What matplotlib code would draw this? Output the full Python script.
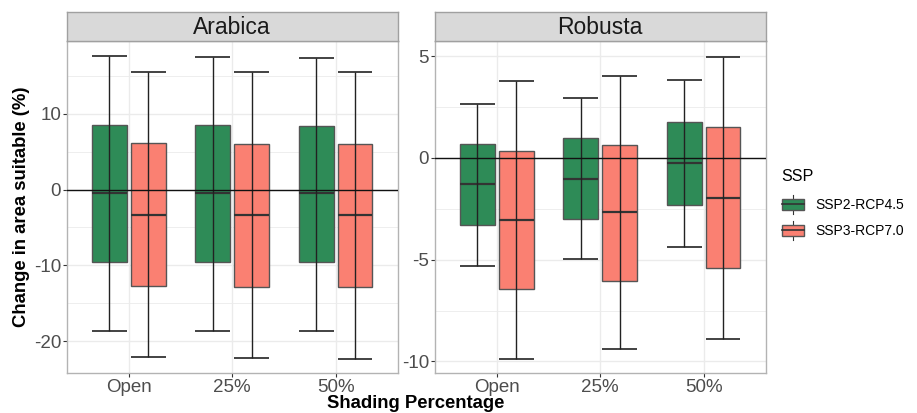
import matplotlib
matplotlib.use("Agg")
import matplotlib.pyplot as plt
from matplotlib.patches import Rectangle, Patch
from matplotlib.lines import Line2D
from matplotlib.legend_handler import HandlerBase

plt.rcParams['font.family'] = ['Liberation Sans', 'DejaVu Sans']
plt.rcParams['axes.unicode_minus'] = False

# data
categories = ['Open', '25%', '50%']
scenarios = ['SSP2-RCP4.5', 'SSP3-RCP7.0']
colors = ['#2E8B57', '#FA8072']

# Arabica: [scenario][category]
arabica_low = [[-18.6, -18.6, -18.6], [-22.1, -22.2, -22.3]]
arabica_q1 = [[-9.55, -9.55, -9.6], [-12.7, -12.8, -12.85]]
arabica_med = [[-0.4, -0.4, -0.5], [-3.3, -3.4, -3.4]]
arabica_q3 = [[8.55, 8.5, 8.45], [6.08, 6.0, 6.0]]
arabica_high = [[17.6, 17.5, 17.4], [15.5, 15.5, 15.5]]

# Robusta: [scenario][category]
robusta_low = [[-5.3, -4.98, -4.39], [-9.87, -9.39, -8.89]]
robusta_q1 = [[-3.31, -3.0, -2.31], [-6.46, -6.05, -5.41]]
robusta_med = [[-1.28, -1.02, -0.26], [-3.05, -2.67, -1.95]]
robusta_q3 = [[0.69, 0.97, 1.79], [0.36, 0.66, 1.52]]
robusta_high = [[2.67, 2.94, 3.85], [3.79, 4.02, 4.98]]

arabica_ticks = [-20, -10, 0, 10]
robusta_ticks = [-10, -5, 0, 5]

W, H = 917, 413
fig = plt.figure(figsize=(W / 100, H / 100), dpi=100)

grid_col = '#EBEBEB'
border_col = '#B3B3B3'


def panel(left_px, title, low, q1, med, q3, high, ylim, ticks, minor):
    ax = fig.add_axes([left_px / W, (H - 373) / H, 331 / W, 332 / H])
    ax.set_xlim(0.4, 3.6)
    ax.set_ylim(*ylim)
    ax.set_yticks(ticks)
    ax.set_yticks(minor, minor=True)
    ax.set_xticks(range(1, 4))
    ax.set_xticklabels(categories)
    ax.grid(True, which='major', color=grid_col, lw=1.0, zorder=0)
    ax.grid(True, which='minor', axis='y', color=grid_col, lw=0.6, zorder=0)
    ax.set_axisbelow(True)
    ax.tick_params(axis='both', which='major', length=3, width=0.8, color='#333333',
                   labelsize=13.5, labelcolor='#4D4D4D', pad=1)
    ax.tick_params(axis='y', which='minor', length=0)
    for s in ax.spines.values():
        s.set_color(border_col)
        s.set_linewidth(1.0)

    width = 0.3375
    for si in range(2):
        xs = [c + 1 + (si - 0.5) * 0.375 for c in range(3)]
        lefts = [x - width / 2 for x in xs]
        rights = [x + width / 2 for x in xs]
        ax.bar(xs, [q3[si][i] - q1[si][i] for i in range(3)], bottom=q1[si],
               width=width, color=colors[si], edgecolor='#555555', linewidth=1.0, zorder=2)
        ax.hlines(med[si], lefts, rights, color='#333333', lw=1.6, zorder=3)
        ax.vlines(xs, low[si], high[si], color='#222222', lw=1.0, zorder=4)
        ax.hlines(low[si], lefts, rights, color='#222222', lw=1.2, zorder=4)
        ax.hlines(high[si], lefts, rights, color='#222222', lw=1.2, zorder=4)
    ax.axhline(0, color='#111111', lw=1.0, zorder=5)

    strip = fig.add_axes([left_px / W, (H - 41) / H, 331 / W, 29 / H])
    strip.set_facecolor('#D9D9D9')
    strip.set_xticks([])
    strip.set_yticks([])
    for s in strip.spines.values():
        s.set_color('#A0A0A0')
        s.set_linewidth(1.0)
    strip.text(0.5, 0.47, title, ha='center', va='center', fontsize=16.5, color='#1A1A1A')
    return ax


panel(66.7, 'Arabica', arabica_low, arabica_q1, arabica_med, arabica_q3, arabica_high,
      (-24.2, 19.6), arabica_ticks, [-15, -5, 5, 15])
panel(434.7, 'Robusta', robusta_low, robusta_q1, robusta_med, robusta_q3, robusta_high,
      (-10.57, 5.75), robusta_ticks, [-7.5, -2.5, 2.5])

fig.text(22 / W, 0.499, 'Change in area suitable (%)', rotation=90, ha='center', va='center',
         fontsize=13.3, fontweight='bold')
fig.text(416 / W, 5 / H, 'Shading Percentage', ha='center', va='baseline',
         fontsize=13.3, fontweight='bold')


class BoxKey(HandlerBase):
    def create_artists(self, legend, orig_handle, xdescent, ydescent, width, height,
                       fontsize, trans):
        x0, y0 = -xdescent, -ydescent
        box = Rectangle((x0, y0 + 0.2 * height), width, 0.6 * height,
                        facecolor=orig_handle.get_facecolor(), edgecolor='#555555',
                        lw=1.0, transform=trans)
        mid = Line2D([x0, x0 + width], [y0 + 0.5 * height] * 2, color='#333333', lw=1.2,
                     transform=trans)
        whisk = Line2D([x0 + width / 2] * 2, [y0, y0 + height], color='#333333', lw=0.8,
                       transform=trans)
        return [whisk, box, mid]


handles = [Patch(facecolor=c) for c in colors]
leg = fig.legend(handles, scenarios, handler_map={Patch: BoxKey()}, title='SSP',
                 loc='upper left', bbox_to_anchor=(776 / W, (H - 163) / H), frameon=False,
                 fontsize=10, title_fontsize=11.6, handlelength=1.6, handleheight=1.75,
                 labelspacing=0.5, handletextpad=0.8, borderaxespad=0, borderpad=0.4)
leg._legend_box.align = 'left'
leg._legend_box.sep = 8

fig.savefig('out.png', dpi=100)
